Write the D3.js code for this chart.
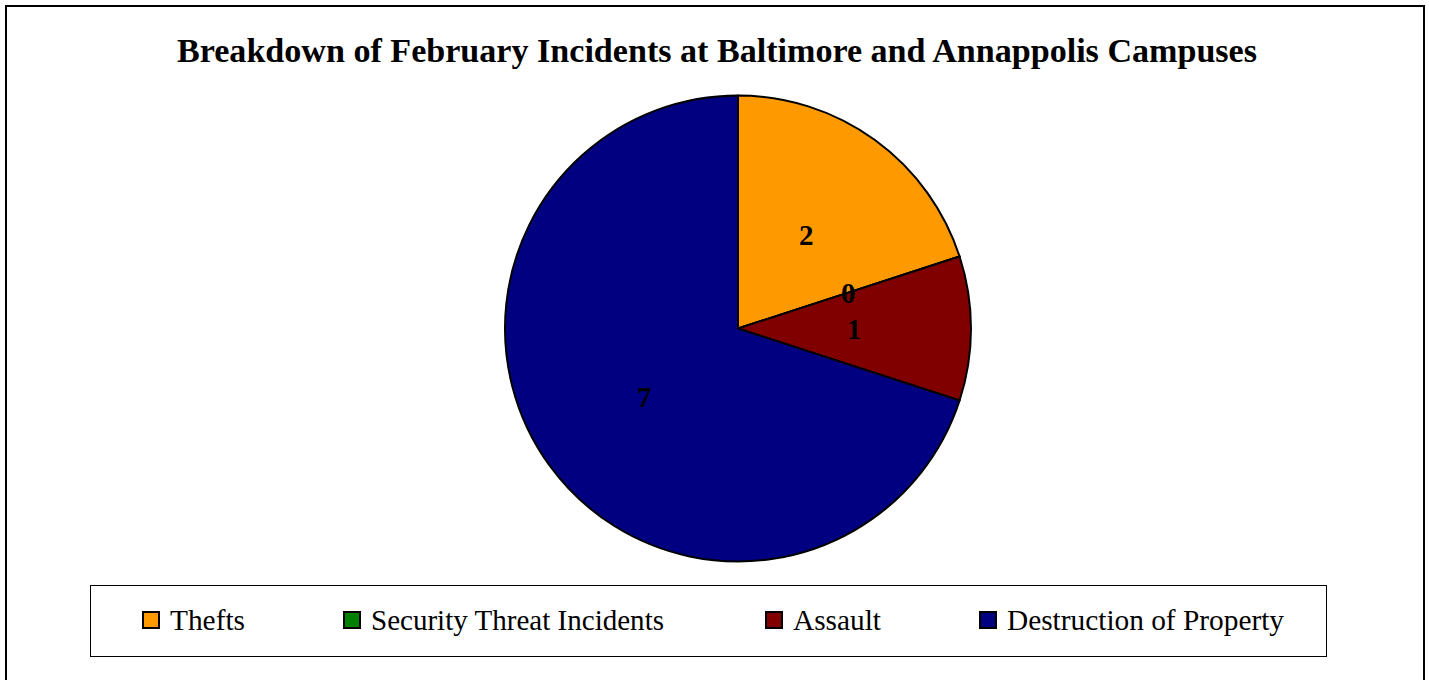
<!DOCTYPE html>
<html><head><meta charset="utf-8">
<script src="https://cdn.jsdelivr.net/npm/d3@7"></script>
<style>html,body{margin:0;padding:0;background:#fff;overflow:hidden}</style>
</head><body>
<svg id="chart" width="1429" height="680"></svg>
<script>
const categories = ["Thefts", "Security Threat Incidents", "Assault", "Destruction of Property"];
const values = [2, 0, 1, 7];
const colors = ["#FF9900", "#008000", "#800000", "#000080"];
const title = "Breakdown of February Incidents at Baltimore and Annappolis Campuses";

const svg = d3.select("#chart");
const font = "'Liberation Serif', 'Times New Roman', serif";

svg.append("rect").attr("x", 6).attr("y", 6).attr("width", 1418).attr("height", 700)
  .attr("fill", "#fff").attr("stroke", "#000").attr("stroke-width", 2);

svg.append("text").attr("x", 717).attr("y", 62).attr("text-anchor", "middle")
  .attr("font-family", font).attr("font-weight", "bold").attr("font-size", 33)
  .attr("textLength", 1080).attr("lengthAdjust", "spacingAndGlyphs")
  .text(title);

const cx = 738, cy = 328.5, R = 233;
const pie = d3.pie().sort(null).value(d => d.v);
const arcs = pie(categories.map((c, i) => ({c, v: values[i], col: colors[i]})));
const arc = d3.arc().innerRadius(0).outerRadius(R);
const labelArc = d3.arc().innerRadius(0).outerRadius(232);

const g = svg.append("g").attr("transform", `translate(${cx},${cy})`);
g.selectAll("path").data(arcs).join("path")
  .attr("d", arc).attr("fill", d => d.data.col)
  .attr("stroke", "#000").attr("stroke-width", 2).attr("stroke-linejoin", "round");

g.selectAll("text.lbl").data(arcs).join("text").attr("class", "lbl")
  .attr("transform", d => { const [x, y] = labelArc.centroid(d); return `translate(${x},${y})`; })
  .attr("text-anchor", "middle").attr("dy", "0.36em")
  .attr("font-family", font).attr("font-weight", "bold").attr("font-size", 29)
  .text(d => d.data.v);

// legend
svg.append("rect").attr("x", 90.5).attr("y", 585.5).attr("width", 1236).attr("height", 71)
  .attr("fill", "#fff").attr("stroke", "#000").attr("stroke-width", 1);
const legX = [142, 343, 765, 979];
const legW = [75, 293, 88, 277];
const lg = svg.selectAll("g.leg").data(categories).join("g").attr("class", "leg")
  .attr("transform", (d, i) => `translate(${legX[i]},611)`);
lg.append("rect").attr("x", 1).attr("y", 1).attr("width", 16).attr("height", 16)
  .attr("fill", (d, i) => colors[i]).attr("stroke", "#000").attr("stroke-width", 2);
lg.append("text").attr("x", 28).attr("y", 19)
  .attr("font-family", font).attr("font-size", 29).attr("fill", "#000")
  .attr("textLength", (d, i) => legW[i]).attr("lengthAdjust", "spacingAndGlyphs")
  .text(d => d);
</script>
</body></html>
